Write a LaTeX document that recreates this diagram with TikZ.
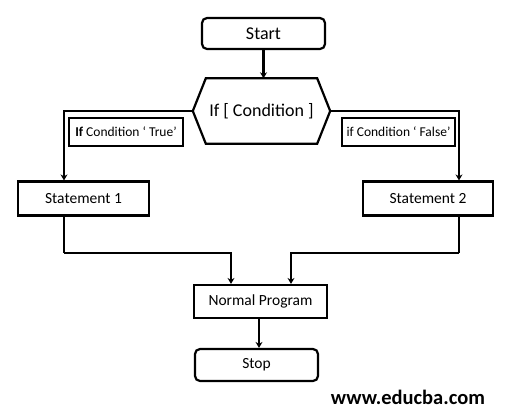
\documentclass[tikz,border=0pt]{standalone}
\usepackage{fontspec}
\setmainfont{Carlito}
\usetikzlibrary{arrows.meta,calc}
\begin{document}
\begin{tikzpicture}[x=1pt,y=-1pt,
  box/.style={draw,line width=2.2pt,inner sep=0pt,font=\fontsize{15.5}{18}\selectfont},
  rbox/.style={box,rounded corners=5pt},
  lbl/.style={draw,line width=2pt,inner sep=0pt,minimum height=28pt,font=\fontsize{13.5}{15}\selectfont},
  conn/.style={line width=2.2pt},
  arr/.style={conn,-{Stealth[length=6pt,width=7pt]}}]
\useasboundingbox (0,0) rectangle (506,416);
\node[rbox,minimum width=123pt,minimum height=31pt,font=\fontsize{18}{20}\selectfont] (start) at (263.5,33.5) {Start};
\node[inner sep=0pt,minimum width=137pt,minimum height=65pt,font=\fontsize{18}{20}\selectfont] (cond) at (261.5,111) {If [ Condition ]};
\draw[line width=2.2pt,line join=miter] (cond.west) -- ($(cond.north west)+(13,0)$) -- ($(cond.north east)+(-13,0)$) -- (cond.east) -- ($(cond.south east)+(-13,0)$) -- ($(cond.south west)+(13,0)$) -- cycle;
\node[lbl,minimum width=114pt] (ltrue) at (126,132) {\textbf{If} Condition ‘ True’};
\node[lbl,minimum width=113pt] (lfalse) at (398.5,131.5) {if Condition ‘ False’};
\node[box,minimum width=131pt,minimum height=34pt] (s1) at (83.5,198.5) {Statement 1};
\node[box,minimum width=130pt,minimum height=34pt] (s2) at (428,198.5) {Statement 2};
\node[box,minimum width=133pt,minimum height=33pt] (np) at (260.5,301.5) {Normal Program};
\node[rbox,minimum width=123pt,minimum height=32pt] (stop) at (256.5,365) {Stop};
\node[font=\bfseries\fontsize{20.5}{22}\selectfont] (url) at (408,397) {www.educba.com};
\coordinate (j1) at (64,252.7);
\coordinate (j2) at (459,252.7);
\draw[arr] (start.south) -- (cond.north -| start.south);
\draw[arr] (cond.west) -| ([xshift=-19.5pt]s1.north);
\draw[arr] (cond.east) -| ([xshift=31pt]s2.north);
\draw[conn] ([xshift=-19.5pt]s1.south) -- (j1);
\draw[arr] (j1) -| ([xshift=-29.5pt]np.north);
\draw[conn] ([xshift=31pt]s2.south) -- (j2);
\draw[arr] (j2) -| ([xshift=30.5pt]np.north);
\draw[arr] (np.south -| stop.north) ++(2.5,0) -- ([xshift=2.5pt]stop.north);
\end{tikzpicture}
\end{document}
